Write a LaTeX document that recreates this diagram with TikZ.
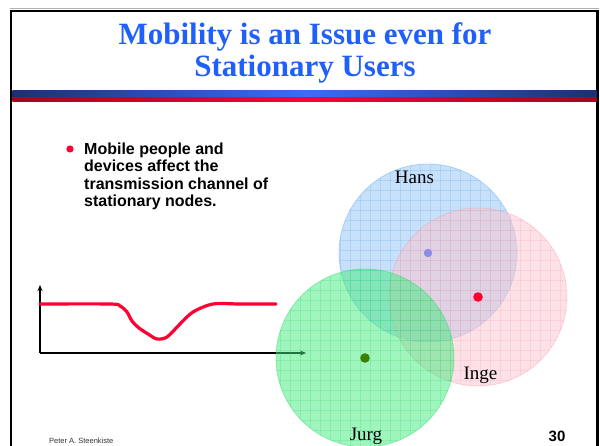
\documentclass[tikz,border=0pt]{standalone}
\usepackage{fontspec}
\setmainfont{Liberation Serif}
\setsansfont{Liberation Sans}
\usepackage{xcolor}
\usetikzlibrary{positioning,arrows.meta}

\definecolor{titleblue}{HTML}{2060FA}
\definecolor{navy}{HTML}{1C2E76}
\definecolor{brightblue}{HTML}{3A6EF4}
\definecolor{darkred}{HTML}{A00822}
\definecolor{brightred}{HTML}{FF0030}
\definecolor{hansfill}{HTML}{91C3F5}
\definecolor{hansline}{HTML}{4B9BEB}
\definecolor{hansdot}{HTML}{8C8CE6}
\definecolor{ingefill}{HTML}{FBC3CD}
\definecolor{ingeline}{HTML}{F591A5}
\definecolor{jurgfill}{HTML}{41EB7D}
\definecolor{jurgline}{HTML}{10D850}
\definecolor{jurgdot}{HTML}{3C8000}

\tikzset{
  rim/.style={line width=2.6pt, black},
  axis/.style={line width=1.6pt, -{Stealth[length=6pt,width=5pt]}},
  signal/.style={line width=3.2pt, brightred, line cap=round},
  who/.style={font=\fontsize{19}{22}\selectfont, inner sep=0pt},
}

\begin{document}
\begin{tikzpicture}[x=1pt, y=-1pt]
\useasboundingbox (0,0) rectangle (600,446);

% slide frame
\draw[gray!60, line width=0.8pt] (10,8) -- (599,8);
\draw[rim] (11,460) -- (11,11) -- (597.5,11) -- (597.5,460);

% title
\node[anchor=base, inner sep=0pt, text=titleblue,
      font=\fontsize{31}{36}\bfseries] (title1) at (305,45) {Mobility is an Issue even for};
\node[anchor=base, inner sep=0pt, text=titleblue,
      font=\fontsize{31}{36}\bfseries] (title2) at (305,77) {Stationary Users};

% stripes under the title
\shade[left color=navy, right color=navy, middle color=brightblue] (12.3,91) rectangle (596.5,97.3);
\shade[left color=darkred, right color=darkred, middle color=brightred] (12.3,97.3) rectangle (596.5,101.5);

% bullet
\fill[brightred] (70,149) circle[radius=3.6pt];
\node[anchor=north west, inner sep=0pt, align=left,
      font=\fontsize{16}{17.4}\sffamily\bfseries] (bullet) at (84,142.5)
  {Mobile people and\\devices affect the\\transmission channel of\\stationary nodes.};

% channel plot
\coordinate (origin) at (40,353);
\coordinate (ytip) at (40,285);
\coordinate (xtip) at (306,353);
\draw[axis] (origin) -- (ytip);
\draw[axis] (origin) -- (xtip);
\draw[signal] plot[smooth, tension=0.5] coordinates {
  (40,304) (110,304) (120,306) (127,312) (132,321) (139,328) (148,334)
  (157,339) (167,337) (180,324) (193,312) (213,304) (240,304) (276,304)};

% coverage areas
\foreach \cx/\cy/\fc/\lc in {428/253/hansfill/hansline, 478/297/ingefill/ingeline, 365/358/jurgfill/jurgline} {
  \begin{scope}
    \clip (\cx,\cy) circle[radius=89pt];
    \fill[\fc, opacity=0.5] (\cx,\cy) circle[radius=89pt];
    \foreach \g in {270,280,...,580}
      \draw[\lc, opacity=0.2, line width=0.7pt] (\g,150) -- (\g,460);
    \foreach \g in {160,170,...,450}
      \draw[\lc, opacity=0.2, line width=0.7pt] (260,\g) -- (590,\g);
  \end{scope}
  \draw[\lc, opacity=0.35, line width=0.8pt] (\cx,\cy) circle[radius=89pt];
}

% people
\fill[hansdot] (428,253) circle[radius=4.2pt];
\fill[brightred] (478,297) circle[radius=4.8pt];
\fill[jurgdot] (365,358) circle[radius=4.8pt];

\node[who] (hans) at (414.5,177) {Hans};
\node[who] (inge) at (480.5,375) {Inge};
\node[who] (jurg) at (366,436) {Jurg};

% footer
\node[anchor=west, inner sep=0pt, text=black!80,
      font=\fontsize{7.5}{9}\sffamily] (author) at (49,441) {Peter A. Steenkiste};
\node[inner sep=0pt, font=\fontsize{15}{18}\sffamily\bfseries] (pageno) at (557,436) {30};
\end{tikzpicture}
\end{document}
